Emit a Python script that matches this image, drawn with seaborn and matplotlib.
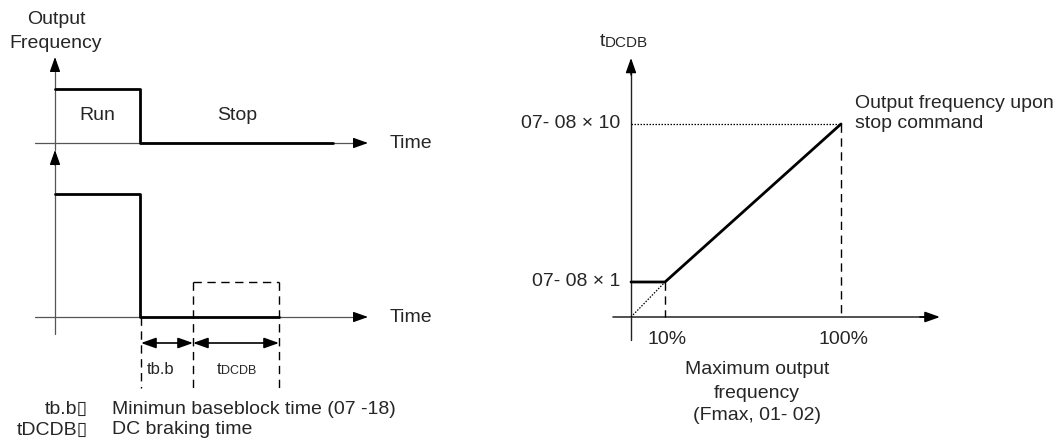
import matplotlib
matplotlib.use("Agg")
import matplotlib.pyplot as plt
import seaborn as sns
import pandas as pd

sns.set_theme(style="white")
plt.rcParams["font.family"] = ["Liberation Sans", "DejaVu Sans"]

# ---------------- data (diagram units) ----------------
# Left panel: output frequency waveform (run -> stop)
freq_t = [55, 140, 140, 333]
freq_v = [89, 89, 143, 143]
# Left panel: lower waveform (output, then base block + DC braking)
brake_t = [55, 140, 140, 279]
brake_v = [194, 194, 317, 317]
# time markers: stop command, end of base block, end of DC braking
t_marks = [141, 193, 279]
dc_box_top = 282
interval_labels = ["tb.b", "tDCDB"]
run_labels = ["Run", "Stop"]

# Right panel: DC braking time vs output frequency at stop
pct_x = [631, 665, 841]          # 0 %, 10 %, 100 %
tdcdb_y = [282, 282, 124]        # 07-08 x 1  ... 07-08 x 10
pct_labels = ["10%", "100%"]
level_labels = ["07- 08 × 1", "07- 08 × 10"]
axis_zero = (631, 317)

FS = 14
FS_SMALL = 12

fig = plt.figure(figsize=(10.58, 4.48), dpi=100)
ax = fig.add_axes([0, 0, 1, 1])
ax.set_xlim(0, 1058)
ax.set_ylim(448, 0)
ax.axis("off")


def arrow(x0, y0, x1, y1, color="black", lw=0.9, style="-|>"):
    ax.annotate("", xy=(x1, y1), xytext=(x0, y0),
                arrowprops=dict(arrowstyle=f"{style},head_length=0.9,head_width=0.32",
                                color=color, lw=lw, shrinkA=0, shrinkB=0,
                                mutation_scale=10))


# ---------------- left panel ----------------
axis_grey = "#555555"
# upper axes
ax.plot([55, 55], [150, 66], color=axis_grey, lw=0.9)
arrow(55, 70, 55, 57, lw=0.9)
ax.plot([35, 360], [143, 143], color=axis_grey, lw=0.9)
arrow(355, 143, 368, 143, lw=0.9)
# lower axes
ax.plot([55, 55], [334, 160], color=axis_grey, lw=0.9)
arrow(55, 165, 55, 150, lw=0.9)
ax.plot([35, 360], [317, 317], color=axis_grey, lw=0.9)
arrow(355, 317, 368, 317, lw=0.9)

df_f = pd.DataFrame({"t": freq_t, "v": freq_v})
sns.lineplot(data=df_f, x="t", y="v", sort=False, estimator=None,
             color="black", lw=2.0, ax=ax)
df_b = pd.DataFrame({"t": brake_t, "v": brake_v})
sns.lineplot(data=df_b, x="t", y="v", sort=False, estimator=None,
             color="black", lw=2.0, ax=ax)

dash = dict(color="black", lw=1.0, linestyle=(0, (6, 4)))
# DC braking dashed box + time markers
ax.plot([t_marks[1], t_marks[2]], [dc_box_top, dc_box_top], **dash)
ax.plot([t_marks[0], t_marks[0]], [317, 388], **dash)
ax.plot([t_marks[1], t_marks[1]], [dc_box_top, 388], **dash)
ax.plot([t_marks[2], t_marks[2]], [dc_box_top, 388], **dash)
arrow(t_marks[0], 343, t_marks[1], 343, lw=1.2, style="<|-|>")
arrow(t_marks[1], 343, t_marks[2], 343, lw=1.2, style="<|-|>")

ax.text(97, 116, run_labels[0], fontsize=FS, ha="center", va="center")
ax.text(237, 116, run_labels[1], fontsize=FS, ha="center", va="center")
ax.text(390, 143, "Time", fontsize=FS, ha="left", va="center")
ax.text(390, 317, "Time", fontsize=FS, ha="left", va="center")
ax.text(56, 20, "Output", fontsize=FS, ha="center", va="center")
ax.text(56, 43, "Frequency", fontsize=FS, ha="center", va="center")

ax.text(161, 370, interval_labels[0], fontsize=FS_SMALL,
        ha="center", va="center")
ax.text(221, 370, "t", fontsize=FS_SMALL, ha="right", va="center")
ax.text(221, 371, "DCDB", fontsize=9, ha="left", va="center")

ax.text(88, 409, "tb.b\u25af", fontsize=FS, ha="right", va="center")
ax.text(112, 409, "Minimun baseblock time (07 -18)", fontsize=FS,
        ha="left", va="center")
ax.text(88, 430, "tDCDB\u25af", fontsize=FS, ha="right", va="center")
ax.text(112, 430, "DC braking time", fontsize=FS, ha="left", va="center")

# ---------------- right panel ----------------
x0, y0 = axis_zero
ax.plot([x0, x0], [340, 70], color="#222222", lw=1.0)
arrow(x0, 75, x0, 58, lw=1.0)
ax.plot([613, 930], [y0, y0], color="#333333", lw=1.2)
arrow(920, y0, 940, y0, lw=1.2)

df_r = pd.DataFrame({"x": [x0] + pct_x[1:], "y": tdcdb_y})
sns.lineplot(data=df_r, x="x", y="y", sort=False, estimator=None,
             color="black", lw=2.0, ax=ax)

dot = dict(color="black", lw=0.9, linestyle=(0, (1.2, 1.2)))
ax.plot([x0, pct_x[1]], [y0, tdcdb_y[1]], **dot)
ax.plot([x0, pct_x[2]], [tdcdb_y[2], tdcdb_y[2]], **dot)
ax.plot([pct_x[1], pct_x[1]], [tdcdb_y[1], y0], **dash)
ax.plot([pct_x[2], pct_x[2]], [tdcdb_y[2], y0], **dash)

ax.text(pct_x[1] + 2, 339, pct_labels[0], fontsize=FS, ha="center", va="center")
ax.text(pct_x[2] + 2, 339, pct_labels[1], fontsize=FS, ha="center", va="center")
ax.text(620, tdcdb_y[0], level_labels[0], fontsize=FS, ha="right", va="center")
ax.text(620, tdcdb_y[2], level_labels[1], fontsize=FS, ha="right", va="center")

ax.text(605, 42, "t", fontsize=FS, ha="right", va="center")
ax.text(605, 43, "DCDB", fontsize=11, ha="left", va="center")

ax.text(855, 103, "Output frequency upon", fontsize=FS, ha="left", va="center")
ax.text(855, 123, "stop command", fontsize=FS, ha="left", va="center")

ax.text(757, 370, "Maximum output", fontsize=FS, ha="center", va="center")
ax.text(757, 393, "frequency", fontsize=FS, ha="center", va="center")
ax.text(757, 416, "(Fmax, 01- 02)", fontsize=FS, ha="center", va="center")

fig.savefig("out.png", dpi=100, facecolor="white")
